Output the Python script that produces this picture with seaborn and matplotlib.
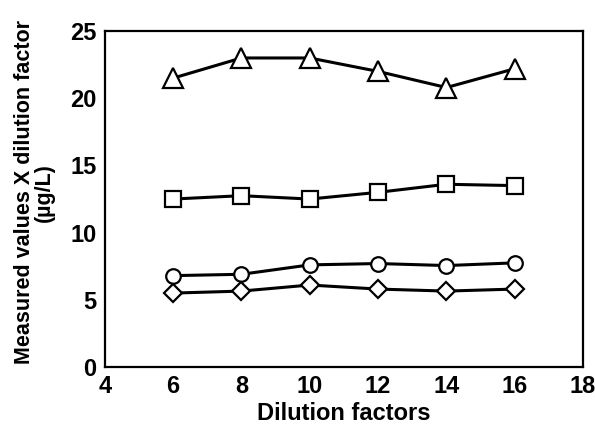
import pandas as pd
import matplotlib
matplotlib.use("Agg")
import matplotlib.pyplot as plt
import seaborn as sns

# Dilution factors (x) and measured value x dilution factor (ug/L)
dilution = [6, 8, 10, 12, 14, 16]
triangle_vals = [21.5, 23.0, 23.0, 22.0, 20.8, 22.2]
square_vals = [12.5, 12.75, 12.5, 13.0, 13.6, 13.5]
circle_vals = [6.8, 6.9, 7.6, 7.7, 7.55, 7.75]
diamond_vals = [5.5, 5.65, 6.1, 5.8, 5.65, 5.8]

series = [
    ("triangle", triangle_vals, "^", 14),
    ("square", square_vals, "s", 11),
    ("circle", circle_vals, "o", 10.5),
    ("diamond", diamond_vals, "D", 9),
]

sns.set_theme(style="white")
plt.rcParams["font.family"] = ["Liberation Sans", "DejaVu Sans"]
plt.rcParams["text.color"] = "black"
plt.rcParams["axes.labelcolor"] = "black"

fig = plt.figure(figsize=(5.95, 4.26), dpi=100)
ax = fig.add_axes([0.176, 0.1385, 0.804, 0.7885])

for name, vals, marker, msize in series:
    df = pd.DataFrame({"x": dilution, "y": vals})
    sns.lineplot(
        data=df, x="x", y="y", ax=ax,
        color="black", linewidth=2.2,
        marker=marker, markersize=msize,
        markerfacecolor="white", markeredgecolor="black", markeredgewidth=1.6,
    )

ax.set_xlim(4, 18)
ax.set_ylim(0, 25)
ax.set_xticks(range(4, 19, 2))
ax.set_yticks(range(0, 26, 5))
ax.tick_params(direction="in", length=5, width=1.5, labelsize=17, colors="black", pad=6)
for lbl in ax.get_xticklabels() + ax.get_yticklabels():
    lbl.set_fontweight("bold")
for sp in ax.spines.values():
    sp.set_linewidth(1.6)
    sp.set_color("black")

ax.set_xlabel("Dilution factors", fontsize=17, fontweight="bold", labelpad=3)
ax.set_ylabel("Measured values X dilution factor\n(\u00b5g/L)", fontsize=15.5, fontweight="bold",
              linespacing=0.9)
ax.yaxis.set_label_coords(-0.105, 0.52)

fig.savefig("out.png", dpi=100)
